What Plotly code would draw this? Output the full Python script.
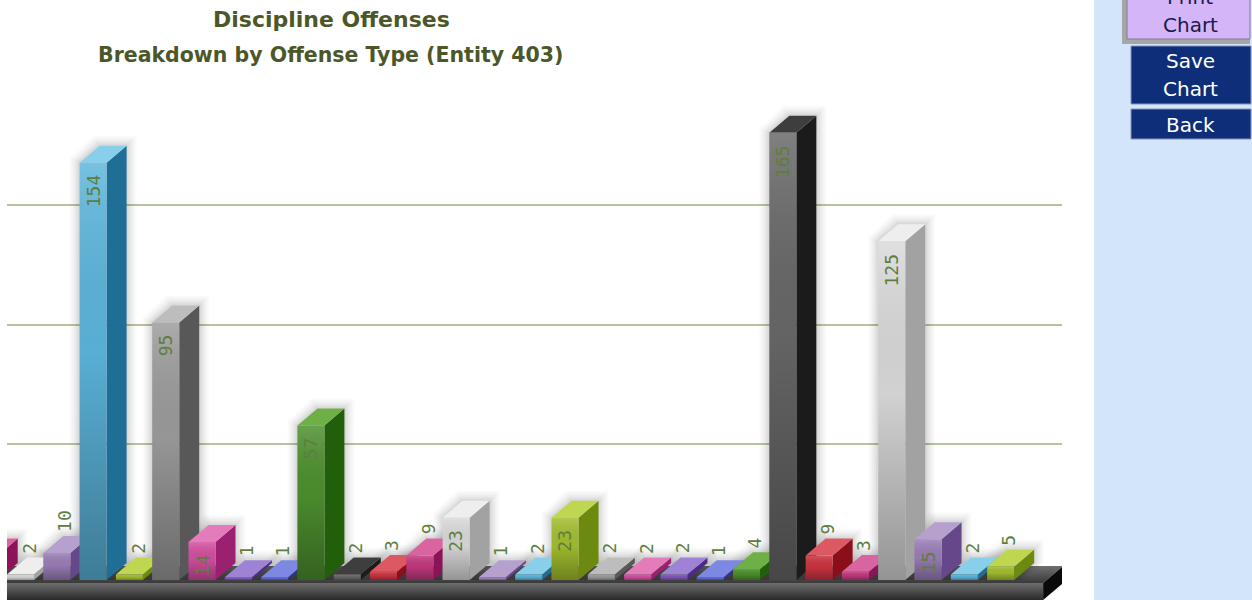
import plotly.graph_objects as go

# ---------------- data ----------------
CATEGORIES = ["Type 01", "Type 02", "Type 03", "Type 04", "Type 05", "Type 06", "Type 07",
              "Type 08", "Type 09", "Type 10", "Type 11", "Type 12", "Type 13", "Type 14",
              "Type 15", "Type 16", "Type 17", "Type 18", "Type 19", "Type 20", "Type 21",
              "Type 22", "Type 23", "Type 24", "Type 25", "Type 26", "Type 27", "Type 28",
              "Type 29"]
VALUES = [9, 2, 10, 154, 2, 95, 14, 1, 1, 57, 2, 3, 9, 23, 1, 2, 23, 2, 2, 2, 1, 4,
          165, 9, 3, 125, 15, 2, 5]
GRID_VALUES = [44, 88, 132]          # division lines on the back wall
TITLE = "Discipline Offenses"
SUBTITLE = "Breakdown by Offense Type (Entity 403)"
BUTTON_TEXT = [["Print", "Chart"], ["Save", "Chart"], ["Back"]]

# ---------------- style ----------------
PALETTE = [  # (front, side, top) cycled over the columns
    ("#C3397F", "#8A1457", "#D8659F"),   # berry
    ("#DADADA", "#A2A2A2", "#EEEEEE"),   # white
    ("#9B7EB7", "#66478A", "#B6A0CD"),   # lavender
    ("#5CB6DC", "#1E6E95", "#88CFEC"),   # sky blue
    ("#A3BF2E", "#6C8A0F", "#BFD650"),   # yellow green
    ("#9C9C9C", "#585858", "#BDBDBD"),   # grey
    ("#D44FA1", "#9C2070", "#E47CBB"),   # pink
    ("#7F59BB", "#4B2B85", "#9E82D5"),   # violet
    ("#5966CD", "#293493", "#7C88E2"),   # royal blue
    ("#4D902E", "#215F0B", "#6FAF48"),   # green
    ("#686868", "#1B1B1B", "#3E3E3E"),   # black
    ("#CC3441", "#8B0F1B", "#DC5862"),   # red
]
W_PX, H_PX = 1252, 600
PLOT_L, PLOT_R = 7, 1062
X_RANGE = [0.628, 29.69]
Y_RANGE = [-7.38, 214.02]
BAR_W = 0.744
DX, DY = 0.551, 6.27
FLOOR_Y = -1.1
FLOOR_EXT = 1.17
FLOOR_THICK = FLOOR_Y - Y_RANGE[0]
PX_PER_UNIT = H_PX / (Y_RANGE[1] - Y_RANGE[0])
PX_PER_CAT = (PLOT_R - PLOT_L) / (X_RANGE[1] - X_RANGE[0])
LABEL_FONT = dict(family="DejaVu Sans Mono", size=18, color="#5E7E3D")
TITLE_COLOR = "#4B5729"
HALOS = [(10, "rgba(0,0,0,0.018)"), (8, "rgba(0,0,0,0.022)"), (6, "rgba(0,0,0,0.028)"),
         (4, "rgba(0,0,0,0.035)"), (2, "rgba(0,0,0,0.045)")]


def pxx(p):
    return (p - PLOT_L) / (PLOT_R - PLOT_L)


def pxy(p):
    return 1 - p / H_PX


def poly(pts, color=None, grad=None, axes=("x", "y")):
    xs = [p[0] for p in pts] + [pts[0][0]]
    ys = [p[1] for p in pts] + [pts[0][1]]
    kw = dict(x=xs, y=ys, mode="lines", fill="toself", line=dict(width=0),
              hoverinfo="skip", showlegend=False, xaxis=axes[0], yaxis=axes[1])
    if grad is not None:
        kw["fillgradient"] = dict(type="vertical", colorscale=grad)
        kw["fillcolor"] = grad[-1][1]
    else:
        kw["fillcolor"] = color
    return go.Scatter(**kw)


fig = go.Figure()
n = len(VALUES)
idx = list(range(n))

# floor
xl = X_RANGE[0] - 2
xr = n - 1 + FLOOR_EXT
fig.add_trace(poly([(xl, FLOOR_Y), (xr, FLOOR_Y), (xr + DX, FLOOR_Y + DY), (xl + DX, FLOOR_Y + DY)],
                   grad=[[0, "#3A3A3A"], [1, "#707070"]]))
fig.add_trace(poly([(xl, FLOOR_Y - FLOOR_THICK - 1), (xr, FLOOR_Y - FLOOR_THICK - 1), (xr, FLOOR_Y), (xl, FLOOR_Y)],
                   grad=[[0, "#1E1E1E"], [1, "#6E6E6E"]]))
fig.add_trace(poly([(xr, FLOOR_Y), (xr + DX, FLOOR_Y + DY), (xr + DX, FLOOR_Y + DY - FLOOR_THICK),
                    (xr, FLOOR_Y - FLOOR_THICK)], color="#0A0A0A"))

# soft halo around every column
for e, col in HALOS:
    ex, ey = e / PX_PER_CAT, e / PX_PER_UNIT
    for k, v in zip(idx, VALUES):
        l, r = k - BAR_W / 2, k + BAR_W / 2
        fig.add_trace(poly([(l - ex, 0), (l - ex, v + ey * 0.4), (l + DX - ex * 0.6, v + DY + ey),
                            (r + DX + ex, v + DY + ey), (r + DX + ex, DY), (r + ex, 0)], color=col))

# side and top faces (behind the fronts)
for k, v in zip(idx, VALUES):
    front, side, top = PALETTE[k % len(PALETTE)]
    r = k + BAR_W / 2
    l = k - BAR_W / 2
    fig.add_trace(poly([(r, 0), (r + DX, DY), (r + DX, v + DY), (r, v)], color=side))
    fig.add_trace(poly([(l, v), (r, v), (r + DX, v + DY), (l + DX, v + DY)], color=top))

# front faces: bars on the overlay axes
fig.add_trace(go.Bar(x=idx, y=VALUES, width=BAR_W, hovertext=CATEGORIES,
                     marker=dict(color=[PALETTE[k % len(PALETTE)][0] for k in idx], line=dict(width=0)),
                     xaxis="x2", yaxis="y2", showlegend=False))
for k, v in zip(idx, VALUES):
    fig.add_trace(poly([(k - BAR_W / 2, 0), (k + BAR_W / 2, 0), (k + BAR_W / 2, v), (k - BAR_W / 2, v)],
                       grad=[[0, "rgba(0,0,0,0.32)"], [0.55, "rgba(0,0,0,0.04)"], [1, "rgba(255,255,255,0.16)"]],
                       axes=("x2", "y2")))

annotations = []
# value labels
for k, v in zip(idx, VALUES):
    txt = str(v)
    inside = v * PX_PER_UNIT >= 12 + len(txt) * 10.5 + 4
    if inside:
        annotations.append(dict(x=k, y=v - 10 / PX_PER_UNIT, xref="x2", yref="y2", text=txt,
                                textangle=-90, showarrow=False, xanchor="center", yanchor="top",
                                font=LABEL_FONT))
    else:
        ax = k + DX / 2
        if ax - 0.2 < X_RANGE[0]:
            continue
        annotations.append(dict(x=ax - 0.05, y=v + DY + 2 / PX_PER_UNIT, xref="x2", yref="y2", text=txt,
                                textangle=-90, showarrow=False, xanchor="center", yanchor="bottom",
                                font=LABEL_FONT))

# titles
annotations.append(dict(x=pxx(331), y=pxy(20), xref="paper", yref="paper", text=TITLE,
                        showarrow=False, xanchor="center", yanchor="middle",
                        font=dict(family="DejaVu Sans", size=22, color=TITLE_COLOR, weight="bold")))
annotations.append(dict(x=pxx(330), y=pxy(55), xref="paper", yref="paper", text=SUBTITLE,
                        showarrow=False, xanchor="center", yanchor="middle",
                        font=dict(family="DejaVu Sans", size=20.5, color=TITLE_COLOR, weight="bold")))

shapes = []
# right side panel
shapes.append(dict(type="rect", xref="paper", yref="paper", x0=pxx(1094), x1=pxx(1260), y0=-0.01, y1=1.01,
                   fillcolor="#D3E5FB", line=dict(width=0), layer="below"))
# print button (grey frame on the left and bottom)
shapes.append(dict(type="rect", xref="paper", yref="paper", x0=pxx(1122), x1=pxx(1250), y0=pxy(44), y1=pxy(-10),
                   fillcolor="#A6A6A6", line=dict(width=0)))
shapes.append(dict(type="rect", xref="paper", yref="paper", x0=pxx(1127), x1=pxx(1250), y0=pxy(39), y1=pxy(-10),
                   fillcolor="#D4B5F7", line=dict(color="#7C7C96", width=1)))
# save / back buttons
for (y0, y1) in [(46, 104), (109, 139)]:
    shapes.append(dict(type="rect", xref="paper", yref="paper", x0=pxx(1131), x1=pxx(1251), y0=pxy(y1), y1=pxy(y0),
                       fillcolor="#0F2E7A", line=dict(color="#8593B6", width=1)))

btn_pos = [[(-3, "#1B1A48"), (25, "#1B1A48")], [(61, "white"), (89, "white")], [(125, "white")]]
for lines, poss in zip(BUTTON_TEXT, btn_pos):
    for t, (y, c) in zip(lines, poss):
        annotations.append(dict(x=pxx(1190), y=pxy(y), xref="paper", yref="paper", text=t, showarrow=False,
                                xanchor="center", yanchor="middle",
                                font=dict(family="DejaVu Sans", size=20, color=c)))

fig.update_layout(
    width=W_PX, height=H_PX,
    margin=dict(l=PLOT_L, r=W_PX - PLOT_R, t=0, b=0, autoexpand=False),
    paper_bgcolor="white", plot_bgcolor="white",
    xaxis=dict(range=X_RANGE, visible=False, fixedrange=True),
    yaxis=dict(range=Y_RANGE, showgrid=True, gridcolor="#B7C59F", gridwidth=2,
               tickvals=[g + DY for g in GRID_VALUES], showticklabels=False, ticks="",
               zeroline=False, showline=False, fixedrange=True),
    xaxis2=dict(range=X_RANGE, overlaying="x", anchor="y2", visible=False, fixedrange=True),
    yaxis2=dict(range=Y_RANGE, overlaying="y", anchor="x2", visible=False, fixedrange=True),
    annotations=annotations, shapes=shapes, showlegend=False, hovermode="closest",
)
fig.write_html("out.html")
